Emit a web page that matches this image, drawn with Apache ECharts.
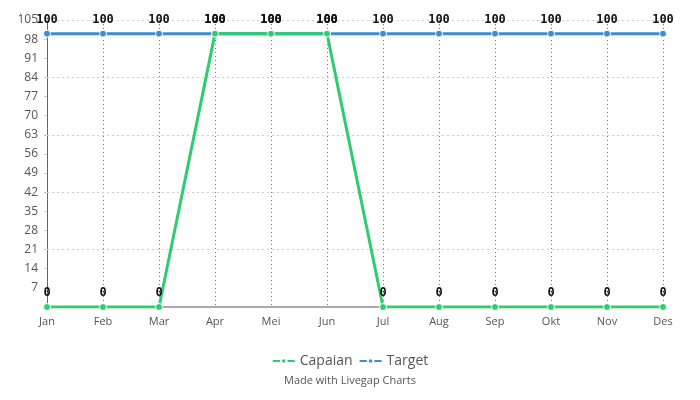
<!DOCTYPE html>
<html><head><meta charset="utf-8">
<script src="https://cdn.jsdelivr.net/npm/echarts@6/dist/echarts.min.js"></script>
<style>html,body{margin:0;padding:0;background:#fff}#c{width:700px;height:400px}</style>
</head><body><div id="c"></div>
<script>
var categories = ['Jan','Feb','Mar','Apr','Mei','Jun','Jul','Aug','Sep','Okt','Nov','Des'];
var capaian = [0,0,0,100,100,100,0,0,0,0,0,0];
var target = [100,100,100,100,100,100,100,100,100,100,100,100];
var gridValues = [21,42,63,84,105];
var chart = echarts.init(document.getElementById('c'));
var lbl = {show:true, position:'top', distance:4, color:'#111', fontWeight:'bold', fontSize:12, fontFamily:'DejaVu Sans Mono'};
chart.setOption({
  animation:false,
  textStyle:{fontFamily:'Open Sans'},
  grid:{left:47,right:37,top:20,bottom:93},
  legend:{data:['Capaian','Target'],bottom:27,left:'center',itemGap:6,itemWidth:22,itemHeight:7,
    textStyle:{fontSize:14,color:'#555',fontFamily:'Open Sans'}},
  title:{text:'Made with Livegap Charts',bottom:9,left:'center',
    textStyle:{fontSize:11,color:'#555',fontWeight:'normal',fontFamily:'Open Sans'}},
  xAxis:{type:'category',data:categories,boundaryGap:false,
    axisLine:{lineStyle:{color:'#aaa',width:2}},axisTick:{show:false},
    axisLabel:{color:'#555',fontSize:11,margin:9},
    splitLine:{show:true,lineStyle:{type:[1,3],color:'#777',width:1}}},
  yAxis:{type:'value',min:0,max:105,interval:7,
    axisLine:{show:true,lineStyle:{color:'#666',width:1}},
    axisTick:{show:true,length:3,lineStyle:{color:'#ccc'}},
    axisLabel:{color:'#555',fontSize:12,margin:9,formatter:function(v){return v===0?'':v;}},
    splitLine:{show:false}},
  series:[
    {name:'Target',type:'line',data:target,symbol:'circle',symbolSize:7,showAllSymbol:true,
      lineStyle:{color:'#3a8fd0',width:3},itemStyle:{color:'#3a8fd0',borderColor:'#fff',borderWidth:1},
      label:lbl,z:2,
      markLine:{silent:true,symbol:'none',label:{show:false},z:1,
        lineStyle:{type:[2,3],color:'#ccc',width:1},
        data:gridValues.map(function(v){return {yAxis:v};})}},
    {name:'Capaian',type:'line',data:capaian,symbol:'circle',symbolSize:7,showAllSymbol:true,
      lineStyle:{color:'#2ecc71',width:3},itemStyle:{color:'#2ecc71',borderColor:'#fff',borderWidth:1},
      label:lbl,z:3}
  ]
});
</script></body></html>
